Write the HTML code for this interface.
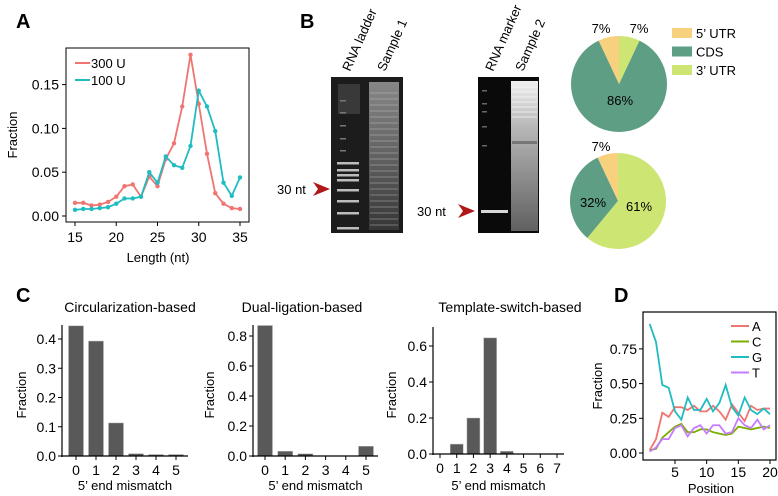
<!DOCTYPE html>
<html><head><meta charset="utf-8"><style>
html,body{margin:0;padding:0;background:#fff}
svg{display:block;font-family:"Liberation Sans",Arial,sans-serif}
</style></head><body>
<svg id="fig" width="778" height="496" viewBox="0 0 778 496" xmlns="http://www.w3.org/2000/svg">
<defs>
<linearGradient id="s1" x1="0" y1="0" x2="0" y2="1"><stop offset="0" stop-color="#9a9a9a"/><stop offset="0.5" stop-color="#6e6e6e"/><stop offset="1" stop-color="#3a3a3a"/></linearGradient>
<linearGradient id="s2" x1="0" y1="0" x2="0" y2="1"><stop offset="0" stop-color="#f0f0f0"/><stop offset="0.3" stop-color="#b8b8b8"/><stop offset="1" stop-color="#606060"/></linearGradient>
</defs>
<g id="root"></g>
</svg>
<script>
// Panel A data
const lenX = [15,16,17,18,19,20,21,22,23,24,25,26,27,28,29,30,31,32,33,34,35];
const u300 = [.015,.015,.012,.013,.016,.022,.034,.036,.022,.045,.034,.065,.083,.125,.184,.128,.071,.026,.014,.009,.008];
const u100 = [.007,.008,.008,.009,.010,.014,.020,.020,.022,.050,.038,.068,.058,.055,.080,.143,.125,.097,.038,.023,.044];
const aYTicks = [0, .05, .10, .15];
const aYLabels = ["0.00","0.05","0.10","0.15"];
const aXTicks = [15,20,25,30,35];
// Panel B pies
const pieLabels = ["5\u2019 UTR","CDS","3\u2019 UTR"];
const pie1 = [7,86,7];
const pie2 = [7,32,61];
// Panel C data
const c1Cats = [0,1,2,3,4,5];
const c1Vals = [.445,.393,.113,.008,.005,.005];
const c2Cats = [0,1,2,3,4,5];
const c2Vals = [.87,.032,.015,0,0,.065];
const c3Cats = [0,1,2,3,4,5,6,7];
const c3Vals = [0,.055,.2,.645,.015,0,0,0];
const c1Ticks = [0,.1,.2,.3,.4];
const c2Ticks = [0,.2,.4,.6,.8];
const c3Ticks = [0,.2,.4,.6];
// Panel D data
const posX = [1,2,3,4,5,6,7,8,9,10,11,12,13,14,15,16,17,18,19,20];
const dA = [.02,.10,.29,.26,.33,.33,.31,.34,.30,.30,.34,.30,.24,.35,.29,.23,.34,.31,.32,.32];
const dC = [.02,.03,.11,.15,.19,.21,.15,.15,.17,.17,.15,.14,.13,.14,.19,.18,.17,.18,.19,.18];
const dG = [.93,.80,.49,.47,.30,.24,.40,.31,.31,.39,.30,.36,.49,.33,.27,.40,.31,.28,.32,.28];
const dT = [.01,.04,.10,.10,.18,.20,.12,.18,.20,.14,.20,.20,.14,.15,.25,.20,.18,.24,.17,.20];
const dYTicks = [0,.25,.5,.75];
const dYLabels = ["0.00","0.25","0.50","0.75"];
const dXTicks = [5,10,15,20];

const NS="http://www.w3.org/2000/svg";
const root=document.getElementById('root');
function mk(tag,attrs,parent,txt){const e=document.createElementNS(NS,tag);for(const k in attrs)e.setAttribute(k,attrs[k]);if(txt!==undefined)e.textContent=txt;(parent||root).appendChild(e);return e;}
function lin(d0,d1,r0,r1){return v=>r0+(v-d0)/(d1-d0)*(r1-r0);}

// Panel letters
[["A",16,28],["B",300,28],["C",16,302],["D",614,302]].forEach(p=>{
  const t=mk('text',{x:p[1],y:p[2],'font-size':20,'font-weight':'bold'},root,p[0]);
  
  
});

// ---------- Panel A ----------
{
const g=mk('g',{});


const x=lin(15,35,75,240), y=lin(0,.05,216,172.2);
mk('rect',{x:66,y:48,width:183,height:174,fill:'none',stroke:'#000','stroke-width':1},g);
aYTicks.forEach((v,i)=>{mk('line',{x1:62,x2:66,y1:y(v),y2:y(v),stroke:'#000'},g);
  const t=mk('text',{x:59,y:y(v)+5,'font-size':14,'text-anchor':'end'},g,aYLabels[i]);
  });
aXTicks.forEach(v=>{mk('line',{x1:x(v),x2:x(v),y1:222,y2:226,stroke:'#000'},g);
  const t=mk('text',{x:x(v),y:242,'font-size':14,'text-anchor':'middle'},g,v);
  });
const xt=mk('text',{x:158,y:262,'font-size':13,'text-anchor':'middle'},g,'Length (nt)');

const yt=mk('text',{x:0,y:0,'font-size':13,'text-anchor':'middle',transform:'translate(17,135) rotate(-90)'},g,'Fraction');

[[u300,'#f07470','300-u'],[u100,'#1fbcc2','100-u']].forEach(s=>{
  const p=mk('polyline',{points:lenX.map((v,i)=>x(v)+','+y(s[0][i])).join(' '),fill:'none',stroke:s[1],'stroke-width':1.8},g);
  
  lenX.forEach((v,i)=>{const c=mk('circle',{cx:x(v),cy:y(s[0][i]),r:2.2,fill:s[1]},g);
    });
});
[['300 U','#f07470',63],['100 U','#1fbcc2',80]].forEach(l=>{
  const lg=mk('g',{},g);
  mk('line',{x1:75,x2:90,y1:l[2],y2:l[2],stroke:l[1],'stroke-width':2},lg);
  mk('text',{x:91,y:l[2]+5,'font-size':13},lg,l[0]);
});
}

// ---------- Panel B gels ----------
{
const g=mk('g',{});


const g1=mk('rect',{x:331,y:77,width:72,height:156,fill:'#1c1c1c'},g);

mk('rect',{x:369,y:82,width:30,height:148,fill:'url(#s1)',opacity:.85},g);
for(let yy=92;yy<225;yy+=6){mk('rect',{x:370,y:yy,width:28,height:2,fill:'#c8c8c8',opacity:.22},g);}
mk('rect',{x:338,y:84,width:22,height:30,fill:'#555',opacity:.5},g);
[163,170,175,180,190,201,213,228].forEach(b=>mk('rect',{x:337,y:b-1,width:22,height:2.5,fill:'#bdbdbd'},g));
[100,112,125,138,150].forEach(b=>mk('rect',{x:340,y:b,width:6,height:1.5,fill:'#777'},g));
const g2=mk('rect',{x:478,y:77,width:61,height:156,fill:'#0a0a0a'},g);

mk('rect',{x:511,y:81,width:27,height:150,fill:'url(#s2)'},g);
for(let yy=86;yy<120;yy+=5){mk('rect',{x:512,y:yy,width:25,height:2,fill:'#fff',opacity:.3},g);}
mk('rect',{x:512,y:141,width:25,height:3,fill:'#444',opacity:.5},g);
mk('rect',{x:481,y:210,width:27,height:3,fill:'#d8d8d8'},g);
[90,103,111,126,145].forEach(b=>mk('rect',{x:482,y:b,width:5,height:1.5,fill:'#666'},g));
[['RNA ladder',350,72],['Sample 1',385,72],['RNA marker',493,72],['Sample 2',523,72]].forEach(l=>{
  const t=mk('text',{x:0,y:0,'font-size':13,transform:`translate(${l[1]},${l[2]}) rotate(-66)`},g,l[0]);
  });
[[277,194,313,189],[417,216,458,211]].forEach(a=>{
  const t=mk('text',{x:a[0],y:a[1],'font-size':13},g,'30 nt');
  
  const p=mk('path',{d:`M${a[2]},${a[3]-7} L${a[2]+17},${a[3]} L${a[2]},${a[3]+7} L${a[2]+5},${a[3]} Z`,fill:'#b01818'},g);
  });
}

// ---------- Panel B pies ----------
{
const cols=['#f8d17f','#5e9e85','#cde572'];
function pie(vals,cx,cy,r,name,labelPos){
  const g=mk('g',{});
  const tot=vals.reduce((a,b)=>a+b,0);
  const segs=[[0,vals[0]],[vals[0],vals[0]+vals[1]],[vals[0]+vals[1],tot]];
  segs.forEach((s,i)=>{
    const a0=-s[0]/tot*2*Math.PI, a1=-s[1]/tot*2*Math.PI;
    const p0=[cx+r*Math.sin(a0),cy-r*Math.cos(a0)], p1=[cx+r*Math.sin(a1),cy-r*Math.cos(a1)];
    const large=(s[1]-s[0])/tot>0.5?1:0;
    const p=mk('path',{d:`M${cx},${cy} L${p0[0]},${p0[1]} A${r},${r} 0 ${large} 0 ${p1[0]},${p1[1]} Z`,fill:cols[i]},g);
    
    
  });
  vals.forEach((v,i)=>{const lp=labelPos[i];
    const t=mk('text',{x:lp[0],y:lp[1],'font-size':13,'text-anchor':'middle'},g,v+'%');
    });
}
pie(pie1,619,84,48,'pie-chart-sample-1',[[601,33],[620,105],[639,33]]);
pie(pie2,618,201,48,'pie-chart-sample-2',[[601,151],[593,207],[639,211]]);
pieLabels.forEach((l,i)=>{
  const lg=mk('g',{});
  mk('rect',{x:672,y:28+i*18.5,width:20,height:10,fill:cols[i]},lg);
  mk('text',{x:696,y:38+i*18.5,'font-size':13},lg,l);
});
}

// ---------- Panel C ----------
function barChart(o){
  const g=mk('g',{});
  const y=lin(0,o.tv,o.bottom,o.ty);
  const x=lin(o.cats[0],o.cats[o.cats.length-1],o.x0,o.x1);
  o.vals.forEach((v,i)=>{const h=Math.min(o.bottom-y(v),o.bottom-o.top);
    const b=mk('rect',{x:x(o.cats[i])-o.bw/2,y:o.bottom-h,width:o.bw,height:Math.max(h,0),fill:'#595959',stroke:'#bbb','stroke-width':0.5},g);
    });
  mk('line',{x1:o.ax,x2:o.ax,y1:o.top,y2:o.bottom+1,stroke:'#000','stroke-width':1.2},g);
  mk('line',{x1:o.ax-1,x2:o.axEnd,y1:o.bottom,y2:o.bottom,stroke:'#000','stroke-width':1.2},g);
  o.ticks.forEach(v=>{mk('line',{x1:o.ax-4,x2:o.ax,y1:y(v),y2:y(v),stroke:'#000'},g);
    const t=mk('text',{x:o.ax-6,y:y(v)+5,'font-size':14,'text-anchor':'end'},g,v.toFixed(1));
    });
  o.cats.forEach(c=>{mk('line',{x1:x(c),x2:x(c),y1:o.bottom,y2:o.bottom+4,stroke:'#000'},g);
    const t=mk('text',{x:x(c),y:o.bottom+19,'font-size':14,'text-anchor':'middle'},g,c);
    });
  const xt=mk('text',{x:(o.ax+o.axEnd)/2,y:490,'font-size':13,'text-anchor':'middle'},g,'5\u2019 end mismatch');
  
  const yt=mk('text',{x:0,y:0,'font-size':13,'text-anchor':'middle',transform:`translate(${o.ylx},395) rotate(-90)`},g,'Fraction');
  
  const tt=mk('text',{x:o.tx,y:312,'font-size':14,'text-anchor':'middle'},g,o.title);
  
}
barChart({name:'bar-chart-circularization',cats:c1Cats,vals:c1Vals,ticks:c1Ticks,tv:.4,ty:339,bottom:456,top:325,x0:76,x1:176,bw:15,ax:62,axEnd:188,ylx:26,tx:130,title:'Circularization-based'});
barChart({name:'bar-chart-dual-ligation',cats:c2Cats,vals:c2Vals,ticks:c2Ticks,tv:.8,ty:336,bottom:456,top:325,x0:265,x1:366,bw:15,ax:253,axEnd:378,ylx:214,tx:302,title:'Dual-ligation-based'});
barChart({name:'bar-chart-template-switch',cats:c3Cats,vals:c3Vals,ticks:c3Ticks,tv:.6,ty:346,bottom:454,top:327,x0:440,x1:557,bw:13,ax:433,axEnd:564,ylx:396,tx:510,title:'Template-switch-based'});

// ---------- Panel D ----------
{
const g=mk('g',{});
const x=lin(5,20,675,770), y=lin(0,.25,453,418.3);
mk('rect',{x:643,y:312,width:133,height:148,fill:'none',stroke:'#000','stroke-width':1.2},g);
dYTicks.forEach((v,i)=>{mk('line',{x1:639,x2:643,y1:y(v),y2:y(v),stroke:'#000'},g);
  const t=mk('text',{x:637,y:y(v)+5,'font-size':14,'text-anchor':'end'},g,dYLabels[i]);
  });
dXTicks.forEach(v=>{mk('line',{x1:x(v),x2:x(v),y1:460,y2:464,stroke:'#000'},g);
  const t=mk('text',{x:x(v),y:477,'font-size':14,'text-anchor':'middle'},g,v);
  });
const xt=mk('text',{x:711,y:493,'font-size':13,'text-anchor':'middle'},g,'Position');

const yt=mk('text',{x:0,y:0,'font-size':13,'text-anchor':'middle',transform:'translate(602,386) rotate(-90)'},g,'Fraction');

const ser=[[dA,'#f07470','A'],[dC,'#7cae00','C'],[dG,'#1fbcc2','G'],[dT,'#c77cff','T']];
ser.forEach(s=>{const p=mk('polyline',{points:posX.map((v,i)=>x(v)+','+y(s[0][i])).join(' '),fill:'none',stroke:s[1],'stroke-width':1.8},g);
  });
ser.forEach((s,i)=>{const lg=mk('g',{},g);
  const yy=326+i*15.5;mk('line',{x1:731,x2:749,y1:yy,y2:yy,stroke:s[1],'stroke-width':2},lg);
  mk('text',{x:752,y:yy+5,'font-size':13},lg,s[2]);});
}
</script>
</body></html>
